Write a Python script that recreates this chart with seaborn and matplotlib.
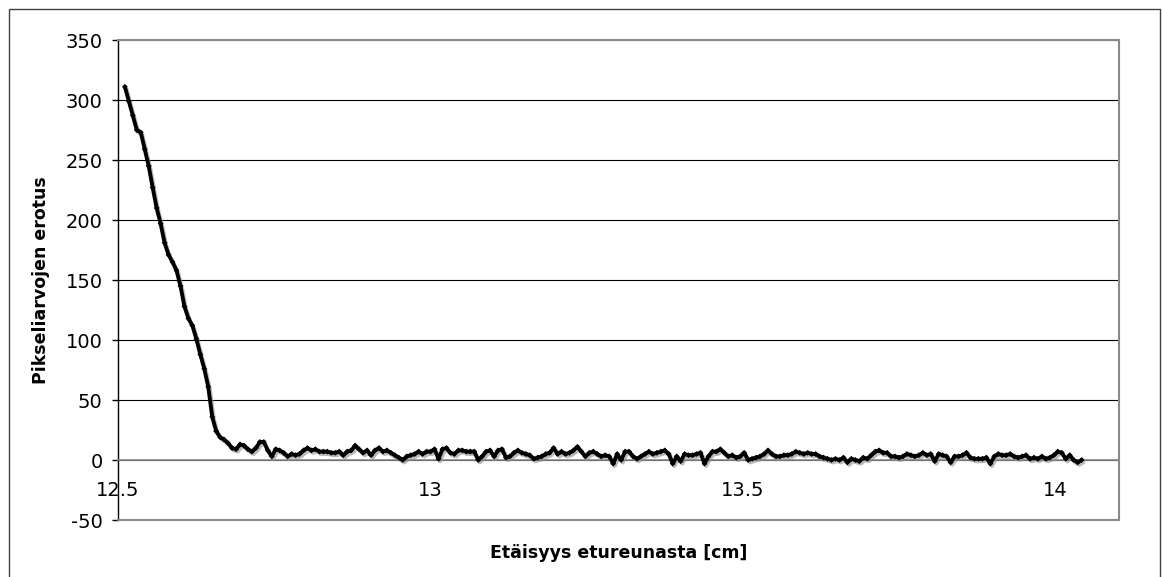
import numpy as np
import pandas as pd
import seaborn as sns
import matplotlib
matplotlib.use("Agg")
import matplotlib.pyplot as plt
import matplotlib.patheffects as pe
from matplotlib.patches import Rectangle

# ---- data ----
x_start = 12.511      # first sample position [cm]
x_step = 0.006355     # sample spacing [cm]

y_drop = [311, 299, 287, 275, 273, 259, 245, 227, 210, 197, 181, 171, 165, 158,
          145, 128, 118, 112, 101, 88, 76, 61, 36, 24, 19, 17, 14, 10, 9]
y_noise_a = [13, 12, 9, 7, 10, 15, 15, 8, 3, 9, 8, 6, 3, 5, 4, 5, 8, 10, 8, 9,
             7, 7, 7, 6, 6, 7, 4, 7, 8, 12, 9, 6, 8, 4, 8, 10, 7, 8, 6, 4,
             2, 0, 3, 4, 5, 7, 5, 7]
y_noise_b = [7, 9, 1, 9, 10, 6, 5, 8, 8, 7, 7, 7, 0, 3, 7, 8, 3, 8, 9, 2,
             3, 6, 8, 6, 5, 4, 1, 2, 3, 5, 6, 10, 5, 7, 5, 6, 8, 11, 7, 3,
             6, 7, 5, 3, 4, 3, -3, 5, 0, 7, 7, 3, 1, 3, 5, 7]
y_noise_c = [5, 6, 7, 8, 5, -3, 3, -1, 5, 4, 4, 5, 6, -3, 3, 7, 7, 9, 6, 3,
             4, 2, 3, 6, 0, 1, 2, 3, 5, 8, 5, 3, 3, 4, 4, 5, 7, 6, 5, 6,
             5, 5, 3, 2, 1, 0, 1, 0, 2, -2, 1, 0, -1, 2, 1]
y_noise_d = [4, 7, 8, 6, 6, 3, 3, 2, 3, 5, 4, 3, 4, 6, 4, 5, -1, 5, 4, 3,
             -2, 3, 3, 4, 6, 2, 1, 1, 1, 2, -3, 3, 5, 4, 4, 5, 3, 2, 3, 4,
             1, 2, 1, 3, 1, 2, 4, 7, 6, 1, 4, 0, -2, 0]

y_ticks = [-50, 0, 50, 100, 150, 200, 250, 300, 350]
x_ticks = [12.5, 13, 13.5, 14]
x_tick_labels = ["12.5", "13", "13.5", "14"]
x_label = "Etäisyys etureunasta [cm]"
y_label = "Pikseliarvojen erotus"

y_vals = np.array(y_drop + y_noise_a + y_noise_b + y_noise_c + y_noise_d, dtype=float)
x_vals = x_start + x_step * np.arange(len(y_vals))
df = pd.DataFrame({"x": x_vals, "y": y_vals})

# ---- figure ----
sns.set_theme(style="white")
plt.rcParams["font.family"] = ["DejaVu Sans"]
plt.rcParams["axes.unicode_minus"] = False

W, H = 1163, 577
fig = plt.figure(figsize=(W / 100, H / 100), dpi=100)
left, right, top, bottom = 118, 1119, 40, 520
ax = fig.add_axes([left / W, 1 - bottom / H, (right - left) / W, (bottom - top) / H])

sns.lineplot(data=df, x="x", y="y", ax=ax, color="black", linewidth=2.8,
             marker="D", markersize=3, markeredgewidth=0, sort=False,
             estimator=None, legend=False)
for ln in ax.get_lines():
    ln.set_path_effects([pe.SimpleLineShadow(offset=(1.2, -1.8),
                                             shadow_color="#8c8c8c", alpha=0.6),
                         pe.Normal()])
    ln.set_zorder(5)

ax.set_xlim(12.5, 12.5 + (right - left) / 624.7)
ax.set_ylim(-50, 350)
ax.set_yticks(y_ticks)
ax.set_xticks(x_ticks)
ax.set_xticklabels(x_tick_labels)

ax.yaxis.grid(True, color="black", linewidth=0.8)
ax.xaxis.grid(False)
ax.set_axisbelow(True)

for s in ["top", "right"]:
    ax.spines[s].set_visible(True)
    ax.spines[s].set_color("#8a8a8a")
    ax.spines[s].set_linewidth(1.5)
ax.spines["left"].set_color("black")
ax.spines["left"].set_linewidth(1.0)
ax.spines["bottom"].set_position(("data", 0))
ax.spines["bottom"].set_color("#8a8a8a")
ax.spines["bottom"].set_linewidth(1.2)
ax.axhline(-50, color="#8a8a8a", linewidth=1.5, clip_on=False, zorder=3)

ax.tick_params(axis="y", which="major", left=True, direction="out", length=4,
               width=1, color="black", pad=7, labelsize=14, labelcolor="black")
ax.tick_params(axis="x", which="major", bottom=True, length=0, pad=15,
               labelsize=14, labelcolor="black")

ax.set_xlabel(x_label, fontsize=12.5, fontweight="bold", color="black")
ax.set_ylabel(y_label, fontsize=12.5, fontweight="bold", color="black")
ax.xaxis.set_label_coords(0.5, -0.05)
ax.yaxis.set_label_coords(-0.068, 0.5)

# outer chart border
fig.patches.append(Rectangle((9 / W, -0.1), (1160 - 9) / W, 1 - 9 / H + 0.1,
                             transform=fig.transFigure, fill=False,
                             edgecolor="#404040", linewidth=1.0))

fig.savefig("out.png", dpi=100)
